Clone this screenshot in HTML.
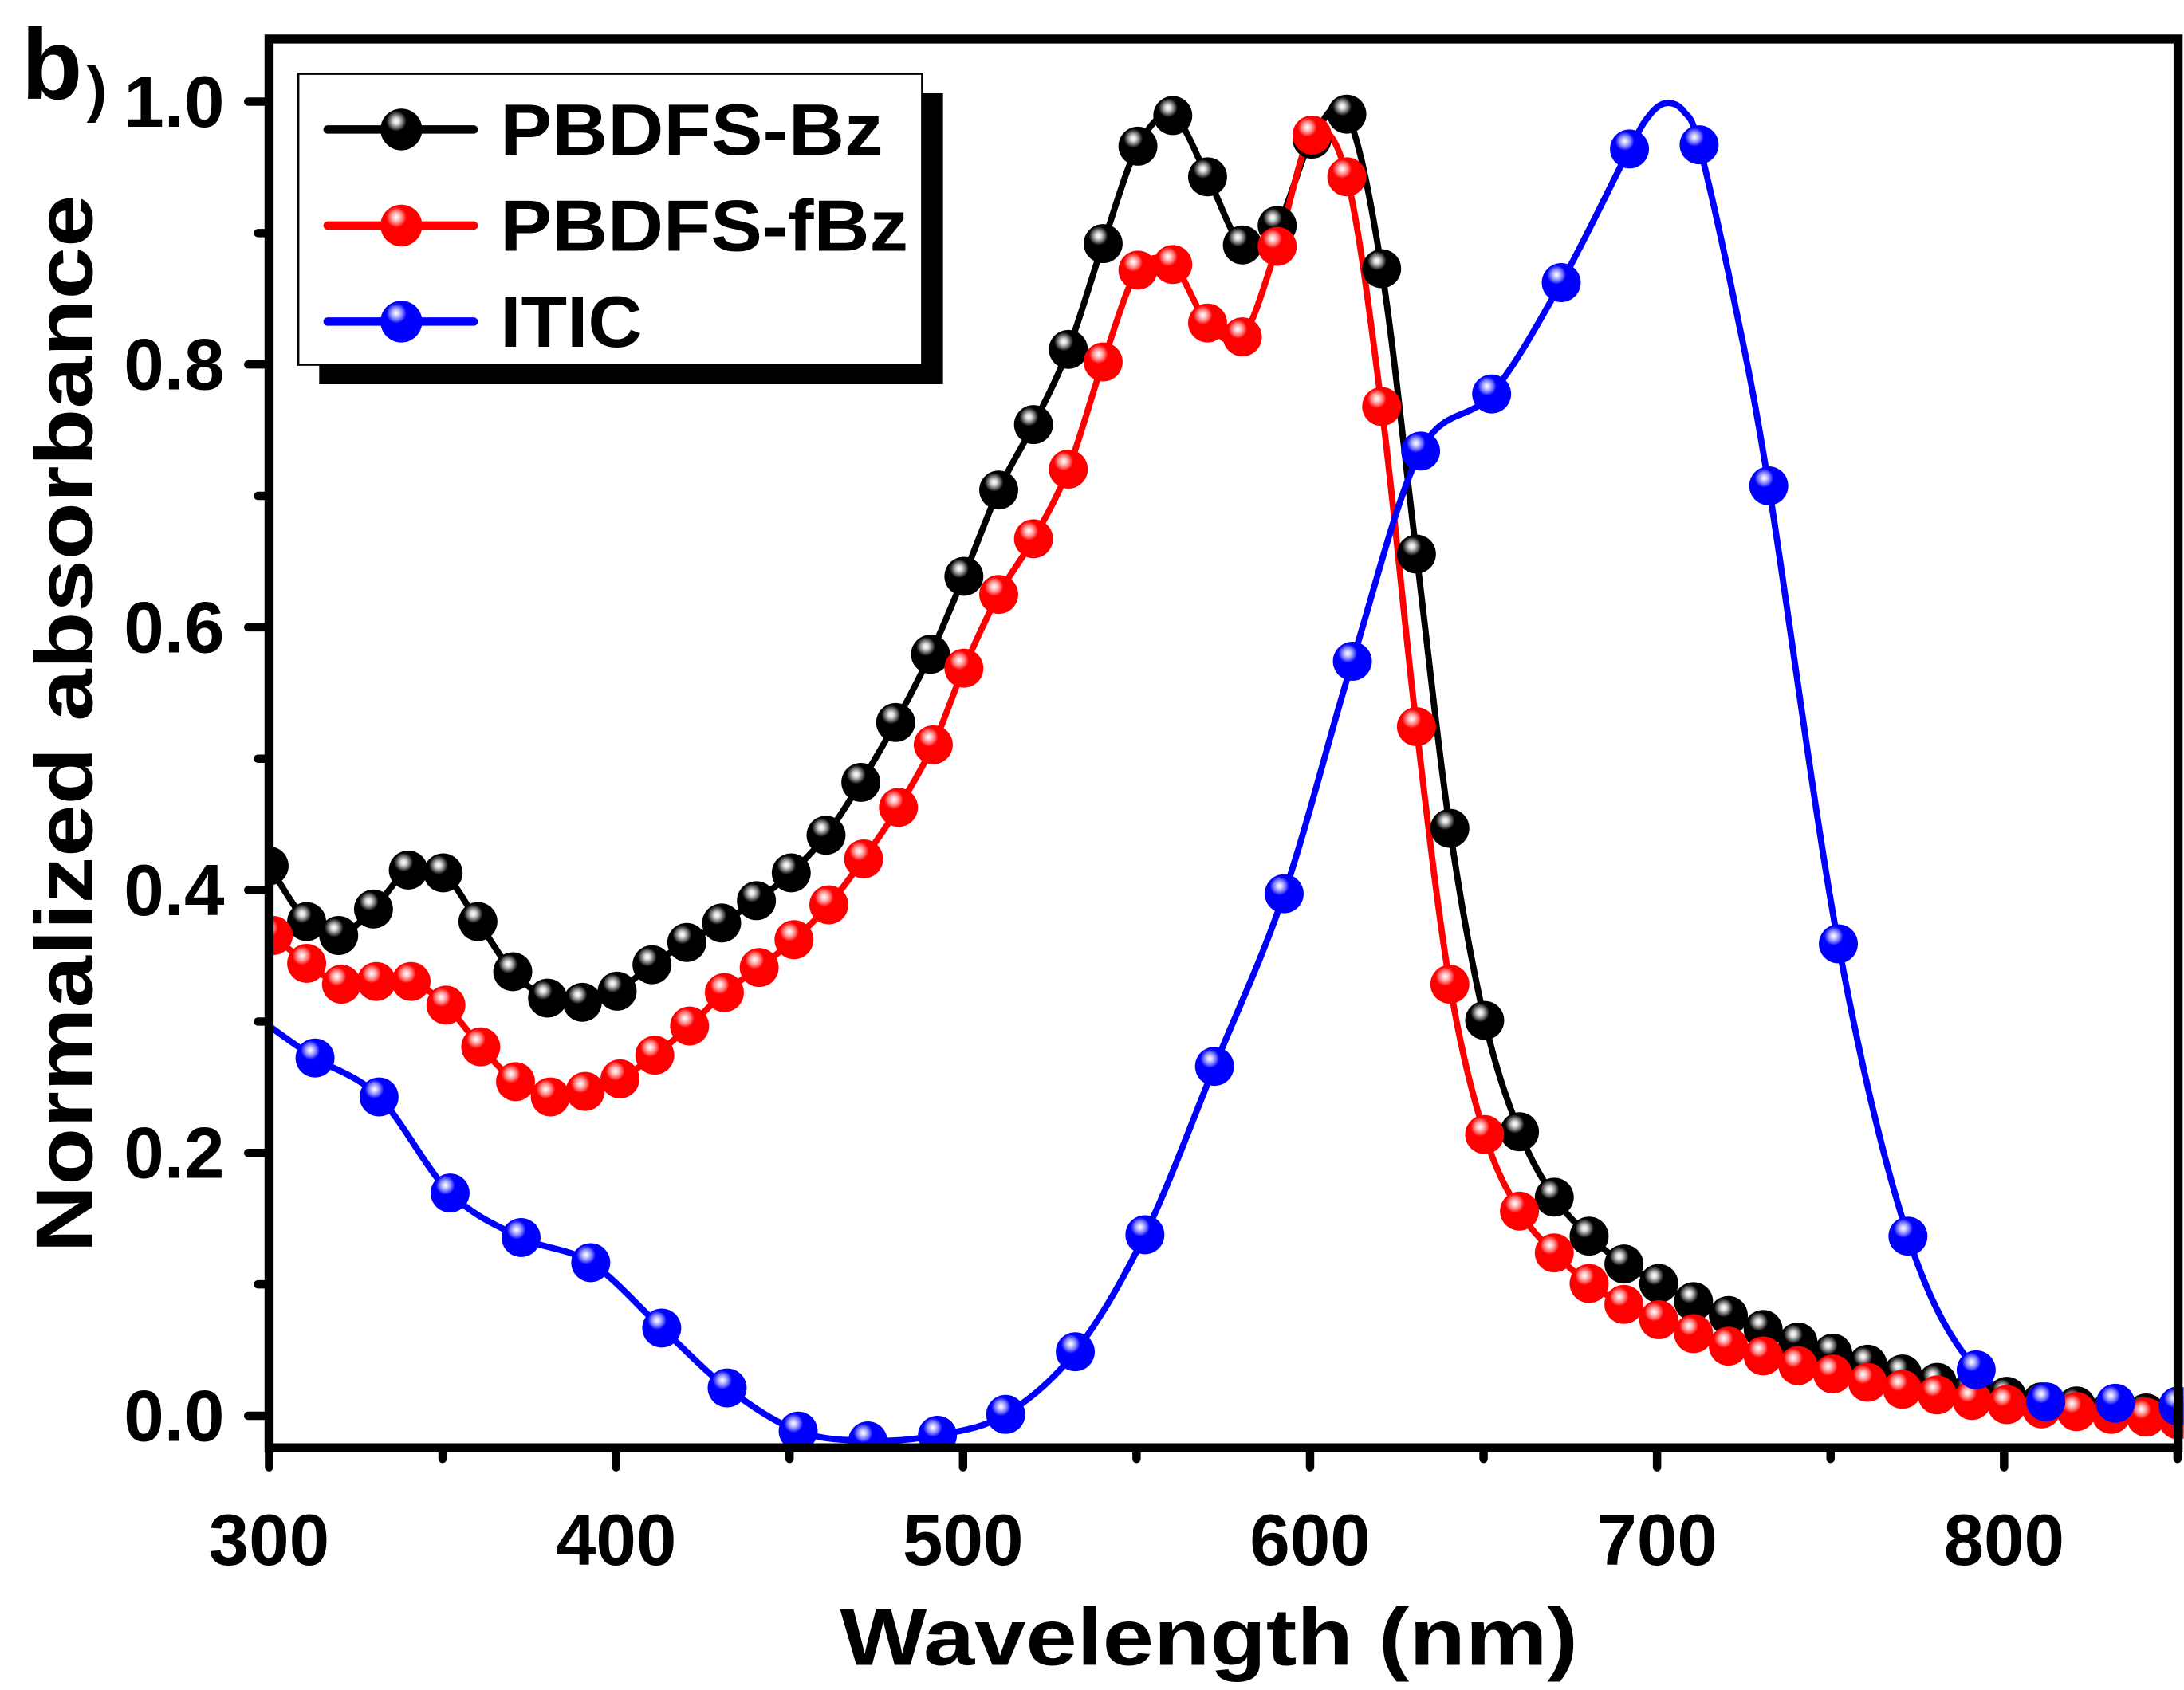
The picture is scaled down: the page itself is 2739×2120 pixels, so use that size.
<!DOCTYPE html>
<html><head><meta charset="utf-8"><style>html,body{margin:0;padding:0;background:#fff}svg{display:block}text{font-family:"Liberation Sans",Arial,sans-serif;font-weight:bold;fill:#000}</style></head>
<body>
<svg id="s" xmlns="http://www.w3.org/2000/svg" width="2739" height="2120" viewBox="0 0 1568 1214">
<defs>
<radialGradient id="gk" cx="0.38" cy="0.3" r="0.7"><stop offset="0" stop-color="#fff"/><stop offset="0.1" stop-color="#ddd"/><stop offset="0.22" stop-color="#777"/><stop offset="0.35" stop-color="#000"/><stop offset="1" stop-color="#000"/></radialGradient>
<radialGradient id="gr" cx="0.38" cy="0.3" r="0.7"><stop offset="0" stop-color="#fff"/><stop offset="0.1" stop-color="#fcc"/><stop offset="0.22" stop-color="#f77"/><stop offset="0.35" stop-color="#f00"/><stop offset="1" stop-color="#f00"/></radialGradient>
<radialGradient id="gb" cx="0.38" cy="0.3" r="0.7"><stop offset="0" stop-color="#fff"/><stop offset="0.1" stop-color="#ccf"/><stop offset="0.22" stop-color="#77f"/><stop offset="0.35" stop-color="#00f"/><stop offset="1" stop-color="#00f"/></radialGradient>
<clipPath id="cp"><rect x="193" y="27" width="1375" height="1014"/></clipPath>
</defs>
<g id="plot" clip-path="url(#cp)"></g>
<g id="axes"></g>
<text x="15" y="71" font-size="72">b</text><text x="62" y="79" font-size="44" font-weight="normal">)</text>
<g>
<rect x="229" y="67" width="448" height="209" fill="#000"/>
<rect x="214" y="53" width="448" height="209" fill="#fff" stroke="#000" stroke-width="1.5"/>
<line x1="235" y1="93" x2="340" y2="93" stroke="#000" stroke-width="6" stroke-linecap="round"/><circle cx="288" cy="93" r="15" fill="url(#gk)"/>
<line x1="235" y1="162" x2="340" y2="162" stroke="#f00" stroke-width="6" stroke-linecap="round"/><circle cx="288" cy="162" r="15" fill="url(#gr)"/>
<line x1="235" y1="231" x2="340" y2="231" stroke="#00f" stroke-width="6" stroke-linecap="round"/><circle cx="288" cy="231" r="15" fill="url(#gb)"/>
<text x="359" y="111" font-size="52" textLength="275" lengthAdjust="spacingAndGlyphs">PBDFS-Bz</text>
<text x="359" y="180" font-size="52" textLength="293" lengthAdjust="spacingAndGlyphs">PBDFS-fBz</text>
<text x="359" y="249" font-size="52" textLength="102" lengthAdjust="spacingAndGlyphs">ITIC</text>
</g>
<text x="868" y="1196" font-size="58" text-anchor="middle" textLength="530" lengthAdjust="spacingAndGlyphs">Wavelength (nm)</text>
<text transform="translate(66,520) rotate(-90)" font-size="58" text-anchor="middle" textLength="760" lengthAdjust="spacingAndGlyphs">Normalized absorbance</text>
</svg>
<script>
const NS="http://www.w3.org/2000/svg";
function el(p,t,a){const e=document.createElementNS(NS,t);for(const k in a)e.setAttribute(k,a[k]);p.appendChild(e);return e;}
const X=w=>193+(w-300)*2.492, Y=v=>1017-v*944;
const blk=[[193,622],[220,662],[243,672],[268,653],[293,625],[318,627],[343,662],[368,698],[393,717],[418,720],[443,712],[468,693],[493,677],[518,663],[543,647],[568,627],[593,600],[618,562],[643,519],[668,470],[692,414],[717,352],[742,305],[767,251],[792,175],[817,105],[842,83],[867,127],[892,176],[917,162],[942,100],[967,82],[992,193],[1017,398],[1041,595],[1066,733],[1091,813],[1116,860],[1141,888],[1166,908],[1191,922],[1216,935],[1241,945],[1266,955],[1291,964],[1316,972],[1341,980],[1366,987],[1391,993],[1416,999],[1441,1003],[1466,1007],[1491,1010],[1516,1013],[1541,1015],[1564,1016]];
const red=[[196,672],[220,692],[245,707],[270,705],[295,705],[320,722],[345,752],[370,777],[395,788],[420,784],[445,775],[470,758],[495,737],[520,713],[545,695],[570,675],[595,650],[620,617],[645,580],[670,535],[692,480],[717,427],[742,387],[767,337],[792,260],[817,194],[842,190],[867,232],[892,242],[917,177],[942,97],[967,127],[992,292],[1017,522],[1041,707],[1066,815],[1091,870],[1116,900],[1141,922],[1166,937],[1191,948],[1216,958],[1241,967],[1266,974],[1291,981],[1316,987],[1341,993],[1366,998],[1391,1002],[1416,1006],[1441,1009],[1466,1012],[1491,1014],[1516,1016],[1541,1018],[1564,1020]];
const blu=[[226,760],[272,788],[323,857],[374,889],[424,907],[475,954],[522,997],[573,1028],[623,1035],[673,1031],[722,1016],[772,971],[822,887],[872,766],[922,642],[971,475],[1020,324],[1071,283],[1121,203],[1170,107],[1220,104],[1270,349],[1320,678],[1370,888],[1419,984],[1469,1007],[1519,1008],[1564,1010]];
const bluLine=[[193,737],...blu.slice(0,19),[1170,107],[1185,82],[1197,74],[1209,80],[1220,104],[1245,215],...blu.slice(21)];
function cr(p){let d="M"+p[0][0]+","+p[0][1];for(let i=0;i<p.length-1;i++){const a=p[Math.max(i-1,0)],b=p[i],c=p[i+1],e=p[Math.min(i+2,p.length-1)];d+=` C${b[0]+(c[0]-a[0])/6},${b[1]+(c[1]-a[1])/6} ${c[0]-(e[0]-b[0])/6},${c[1]-(e[1]-b[1])/6} ${c[0]},${c[1]}`;}return d;}
const g=document.getElementById("plot");
[[blk,"#000"],[red,"#f00"],[bluLine,"#00f"]].forEach(([l,c])=>{
 el(g,"path",{d:cr(l),fill:"none",stroke:c,"stroke-width":4.5,"stroke-linejoin":"round"});
});
[[blk,"gk"],[red,"gr"],[blu,"gb"]].forEach(([m,gid])=>m.forEach(p=>el(g,"circle",{cx:p[0],cy:p[1],r:14,fill:`url(#${gid})`})));
const a=document.getElementById("axes");
el(a,"path",{d:"M193,28 H1564 V1040 H193 Z",fill:"none",stroke:"#000","stroke-width":6.5});
for(let w=300;w<=850;w+=50){const x=X(w),maj=w%100==0;el(a,"line",{x1:x,y1:1040,x2:x,y2:maj?1054:1048,stroke:"#000","stroke-width":6,"stroke-linecap":"round"});
 if(maj&&w<=800){const t=el(a,"text",{x:x,y:1124,"font-size":52,"text-anchor":"middle"});t.textContent=w;}}
for(let v=0;v<=1.001;v+=0.1){const y=Y(v),maj=Math.round(v*10)%2==0;el(a,"line",{x1:193,y1:y,x2:maj?178:185,y2:y,stroke:"#000","stroke-width":6,"stroke-linecap":"round"});
 if(maj){const t=el(a,"text",{x:161,y:y+18,"font-size":52,"text-anchor":"end"});t.textContent=v.toFixed(1);}}
</script>
</body></html>
